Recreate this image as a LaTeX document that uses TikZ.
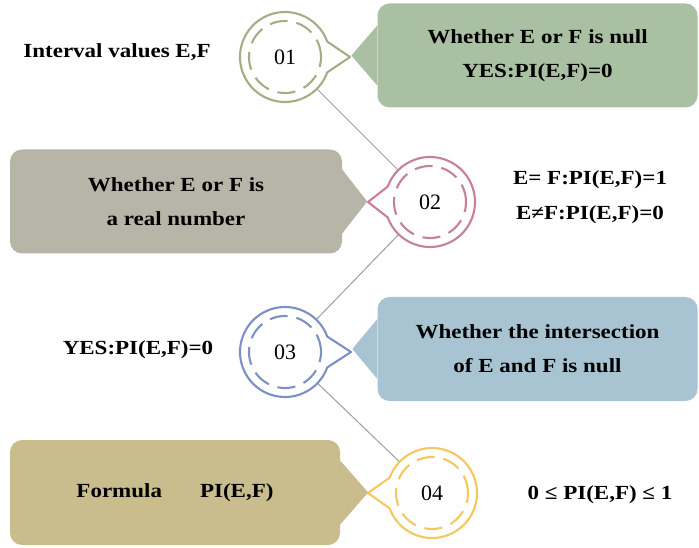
\documentclass[tikz,border=0pt]{standalone}
\usepackage{fontspec}
\setmainfont{Liberation Serif}
\newfontfamily\widefont[FakeStretch=1.15]{Liberation Serif}
\usetikzlibrary{calc}
\definecolor{ringA}{RGB}{166,172,134}
\definecolor{ringB}{RGB}{199,128,154}
\definecolor{ringC}{RGB}{124,144,198}
\definecolor{ringD}{RGB}{244,200,96}
\definecolor{boxA}{RGB}{170,192,162}
\definecolor{boxB}{RGB}{183,181,168}
\definecolor{boxC}{RGB}{168,196,210}
\definecolor{boxD}{RGB}{201,189,142}
\begin{document}
\begin{tikzpicture}[x=1pt,y=1pt,
  ring/.style={circle,minimum size=90pt,inner sep=0pt,outer sep=0pt,font=\fontsize{22}{22}\selectfont},
  rim/.style={line width=2.1pt,line join=round},
  dashring/.style={line width=2.1pt,dash pattern=on 18pt off 9pt},
  box/.style={rounded corners=12pt,minimum width=320pt,minimum height=104pt,align=center,
    font=\widefont\bfseries\fontsize{20}{34}\selectfont},
  lbl/.style={align=center,font=\widefont\bfseries\fontsize{20}{35}\selectfont},
  link/.style={draw=black!38,line width=1pt}]
\useasboundingbox (0,0) rectangle (699,547);
\node[ring] (n1) at (285,490) {01};
\node[ring] (n2) at (430,345) {02};
\node[ring] (n3) at (285,195) {03};
\node[ring] (n4) at (432,54) {04};
\draw[link] (n1) -- (n2) (n2) -- (n3) (n3) -- (n4);
\draw[rim,ringA] (n1.20) -- ([xshift=65pt]n1.center) -- (n1.-20) arc[start angle=-20,end angle=-340,radius=45pt];
\draw[rim,ringB] (n2.160) -- ([xshift=-62pt]n2.center) -- (n2.200) arc[start angle=200,end angle=520,radius=45pt];
\draw[rim,ringC] (n3.20) -- ([xshift=66pt]n3.center) -- (n3.-20) arc[start angle=-20,end angle=-340,radius=45pt];
\draw[rim,ringD] (n4.160) -- ([xshift=-64pt]n4.center) -- (n4.200) arc[start angle=200,end angle=520,radius=45pt];
\draw[dashring,ringA] (n1) circle[radius=36pt];
\draw[dashring,ringB] (n2) circle[radius=36pt];
\draw[dashring,ringC] (n3) circle[radius=36pt];
\draw[dashring,ringD] (n4) circle[radius=36pt];
\node[box,fill=boxA] (b1) at (537.5,491.5) {Whether E or F is null\\YES:PI(E,F)=0};
\fill[boxA] ([yshift=30pt]b1.west) -- ([xshift=-26pt]b1.west) -- ([yshift=-30pt]b1.west) -- cycle;
\node[box,fill=boxB,minimum width=332pt] (b2) at (176,345.5) {Whether E or F is\\a real number};
\fill[boxB] ([yshift=32pt]b2.east) -- ([xshift=25pt]b2.east) -- ([yshift=-32pt]b2.east) -- cycle;
\node[box,fill=boxC] (b3) at (537.5,198) {Whether the intersection\\of E and F is null};
\fill[boxC] ([yshift=30pt]b3.west) -- ([xshift=-25pt]b3.west) -- ([yshift=-30pt]b3.west) -- cycle;
\node[box,fill=boxD,minimum width=330pt,minimum height=105pt] (b4) at (175,54.5) {Formula\hspace{38pt}PI(E,F)};
\fill[boxD] ([yshift=32pt]b4.east) -- ([xshift=28pt]b4.east) -- ([yshift=-32pt]b4.east) -- cycle;
\node[lbl] (v1) at (117,495) {Interval values E,F};
\node[lbl] (v2) at (590,350) {E= F:PI(E,F)=1\\E≠F:PI(E,F)=0};
\node[lbl] (v3) at (138,197) {YES:PI(E,F)=0};
\node[lbl] (v4) at (600,52) {0 ≤ PI(E,F) ≤ 1};
\end{tikzpicture}
\end{document}
